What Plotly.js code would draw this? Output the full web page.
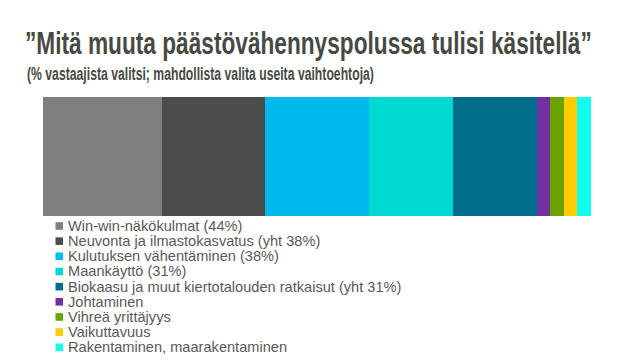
<!DOCTYPE html>
<html>
<head>
<meta charset="utf-8">
<script src="https://cdn.plot.ly/plotly-3.0.1.min.js"></script>
<style>html,body{margin:0;padding:0;background:#fff;}#chart{width:640px;height:360px;}</style>
</head>
<body>
<div id="chart"></div>
<script>
const categories = [
  "Win-win-näkökulmat (44%)",
  "Neuvonta ja ilmastokasvatus (yht 38%)",
  "Kulutuksen vähentäminen (38%)",
  "Maankäyttö (31%)",
  "Biokaasu ja muut kiertotalouden ratkaisut (yht 31%)",
  "Johtaminen",
  "Vihreä yrittäjyys",
  "Vaikuttavuus",
  "Rakentaminen, maarakentaminen"
];
const values = [44, 38, 38, 31, 31, 5, 5, 5, 5];
const colors = ["#7f7f7f", "#4c4c4c", "#00b9ed", "#00d9d1", "#006e8b", "#7030a0", "#68a300", "#ffcc00", "#12ffef"];
const titleText = "”Mitä muuta päästövähennyspolussa tulisi käsitellä”";
const subtitleText = "(% vastaajista valitsi; mahdollista valita useita vaihtoehtoja)";

const traces = categories.map((c, i) => ({
  type: "bar",
  orientation: "h",
  name: c,
  y: [0],
  x: [values[i]],
  width: 1,
  marker: {color: colors[i], line: {width: 0}},
  hovertemplate: c + "<extra></extra>",
  showlegend: false
}));

const total = values.reduce((a, b) => a + b, 0);
const plotLeft = 43.3;
const plotTop = 97;
const plotBottom = 215.7;
const legendTop = 225.7;
const rowGap = 15.16;
const annotations = [];
const shapes = [];
categories.forEach((c, i) => {
  const dy = legendTop + i * rowGap - plotBottom;
  annotations.push({
    xref: "paper", yref: "paper", x: 0, y: 0,
    xanchor: "left", yanchor: "middle",
    xshift: 22.5, yshift: -dy,
    text: c, showarrow: false,
    font: {family: "Liberation Sans, Arial, sans-serif", size: 14.6, color: "#595959"}
  });
  shapes.push({
    type: "rect", xref: "paper", yref: "paper",
    xsizemode: "pixel", ysizemode: "pixel",
    xanchor: 0, yanchor: 0,
    x0: 12.5, x1: 20, y0: -dy - 3.8, y1: -dy + 3.8,
    fillcolor: colors[i], line: {width: 0}
  });
});
annotations.push({
  xref: "paper", yref: "paper", x: 0, y: 1,
  xanchor: "left", yanchor: "middle", align: "left",
  xshift: 25 - plotLeft, yshift: plotTop - 73,
  text: subtitleText,
  showarrow: false,
  font: {family: "Liberation Sans, Arial, sans-serif", size: 19, weight: 700, color: "#464a42"}
});

const layout = {
  width: 640, height: 360,
  margin: {l: plotLeft, r: 49, t: plotTop, b: 360 - plotBottom},
  paper_bgcolor: "#ffffff", plot_bgcolor: "#ffffff",
  barmode: "stack",
  showlegend: false,
  title: {
    text: titleText,
    x: 25 / 640, xref: "container", xanchor: "left",
    y: 1 - 43 / 360, yref: "container", yanchor: "middle",
    font: {family: "Liberation Sans, Arial, sans-serif", size: 32, weight: 700, color: "#464a42"}
  },
  xaxis: {range: [0, total], visible: false, fixedrange: true},
  yaxis: {range: [-0.5, 0.5], visible: false, fixedrange: true},
  annotations: annotations,
  shapes: shapes
};

// Squeeze a text horizontally (the reference uses a condensed typeface) about its left edge.
function condense(el, width) {
  if (!el) return;
  const bb = el.getBBox();
  const sx = width / bb.width;
  const prev = el.getAttribute("transform") || "";
  el.setAttribute("transform",
    "translate(" + bb.x + ",0) scale(" + sx + ",1) translate(" + (-bb.x) + ",0) " + prev);
}

Plotly.newPlot("chart", traces, layout, {displayModeBar: false}).then(gd => {
  condense(gd.querySelector(".gtitle"), 567);
  gd.querySelectorAll(".annotation-text").forEach(t => {
    if (t.textContent === subtitleText) condense(t, 347);
  });
});
</script>
</body>
</html>
